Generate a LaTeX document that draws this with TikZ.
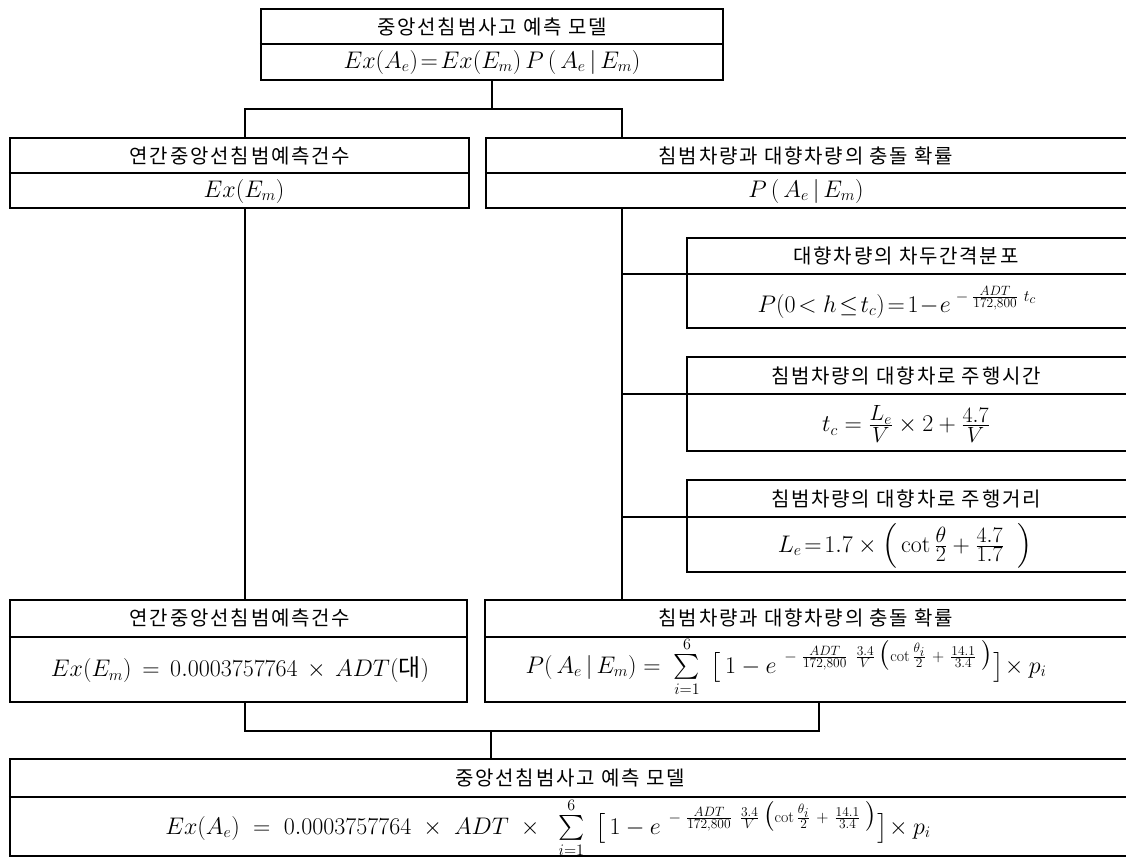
\RequirePackage{fix-cm}
\documentclass[tikz,border=0pt]{standalone}
\usepackage{amsmath}
\usepackage{fontspec}
\newfontfamily\kr[LetterSpace=9]{Noto Sans CJK KR}
\newfontfamily\krplain{Noto Sans CJK KR}
\DeclareMathSizes{24}{24}{16}{13.5}
\tikzset{
  box/.style={draw, line width=2.4pt, inner sep=0pt},
  conn/.style={line width=1.1pt},
  sep/.style={line width=1.2pt},
  ttl/.style={font={\fontsize{20}{22}\selectfont\kr}, inner sep=0pt},
  fml/.style={font={\fontsize{24}{28}\selectfont}, inner sep=0pt},
}
\newcommand\mf[2]{\frac{\mbox{\fontsize{22}{24}\selectfont$#1$}}{\mbox{\fontsize{22}{24}\selectfont$#2$}}}
\newcommand\expo[1]{e^{\hspace{8pt}-\hspace{5pt}\frac{ADT}{172,800}\hspace{8pt}\frac{3.4}{V}\hspace{4pt}\bigl(\cot\frac{#1}{2}\hspace{6pt}+\hspace{6pt}\frac{14.1}{3.4}\hspace{5pt}\bigr)}}
\begin{document}
\begin{tikzpicture}[x=1pt,y=-1pt]
\useasboundingbox (0,0) rectangle (1126,859);
\fill[white] (0,0) rectangle (1126,859);
\clip (0,0) rectangle (1126,859);

% boxes
\node[box, minimum width=462pt, minimum height=71pt] (top) at (492,44.5) {};
\node[box, minimum width=459pt, minimum height=70pt] (L1) at (239.5,173) {};
\node[box, minimum width=644pt, minimum height=70pt] (R1) at (808,173) {};
\node[box, minimum width=443pt, minimum height=90pt] (S1) at (908.5,283) {};
\node[box, minimum width=443pt, minimum height=94pt] (S2) at (908.5,404) {};
\node[box, minimum width=443pt, minimum height=92pt] (S3) at (908.5,526) {};
\node[box, minimum width=457pt, minimum height=102pt] (L2) at (238.5,651) {};
\node[box, minimum width=645pt, minimum height=102pt] (R2) at (807.5,651) {};
\node[box, minimum width=1120pt, minimum height=97pt] (B) at (570,807.5) {};

% dividers
\draw[sep] (top.west |- 0,44) -- (top.east |- 0,44);
\draw[sep] (L1.west |- 0,173) -- (L1.east |- 0,173);
\draw[sep] (R1.west |- 0,173) -- (R1.east |- 0,173);
\draw[sep] (S1.west |- 0,274) -- (S1.east |- 0,274);
\draw[sep] (S2.west |- 0,394) -- (S2.east |- 0,394);
\draw[sep] (S3.west |- 0,517) -- (S3.east |- 0,517);
\draw[sep] (L2.west |- 0,637) -- (L2.east |- 0,637);
\draw[sep] (R2.west |- 0,637) -- (R2.east |- 0,637);
\draw[sep] (B.west |- 0,797) -- (B.east |- 0,797);

% texts
\node[ttl] (topT) at (492,27) {중앙선침범사고 예측 모델};
\node[fml] (topF) at (492,62) {$Ex(A_e)\!=\!Ex(E_m)\,P\,(\,A_e\,|\,E_m)$};
\node[ttl] (L1T) at (240,156) {연간중앙선침범예측건수};
\node[fml] (L1F) at (244,191) {$Ex(E_m)$};
\node[ttl] (R1T) at (806,156) {침범차량과 대향차량의 충돌 확률};
\node[fml] (R1F) at (806,191) {$P\,(\,A_e\,|\,E_m)$};
\node[ttl] (S1T) at (906,256) {대향차량의 차두간격분포};
\node[fml] (S1F) at (897,302) {$P(0\!<\!\,h\!\le\! t_c)\!=\!1\!-\!e^{\hspace{5pt}-\hspace{4pt}\frac{ADT}{172,800}\hspace{6pt}t_c}$};
\node[ttl] (S2T) at (906,376) {침범차량의 대향차로 주행시간};
\node[fml] (S2F) at (906,424) {$t_c=\mf{L_e}{V}\times 2+\mf{4.7}{V}$};
\node[ttl] (S3T) at (906,499) {침범차량의 대향차로 주행거리};
\node[fml] (S3F) at (905,546) {$L_e\!=\!1.7\times\left(\,\cot\mf{\theta}{2}+\mf{4.7}{1.7}\;\;\right)$};
\node[ttl] (L2T) at (240,618) {연간중앙선침범예측건수};
\node[fml] (L2F) at (240,670) {$Ex(E_m)\,=\,0.0003757764\,\times\,ADT(\text{\krplain 대})$};
\node[ttl] (R2T) at (806,618) {침범차량과 대향차량의 충돌 확률};
\node[fml, anchor=base] (R2F) at (786,673) {$P(\,A_e\,|\,E_m)=\;\sum\limits_{i=1}^{6}\;\big[\,1-\expo{\theta_i}\big]\!\times p_i$};
\node[ttl] (BT) at (570,778) {중앙선침범사고 예측 모델};
\node[fml, anchor=base] (BF) at (548,834) {$Ex(A_e)\;=\;0.0003757764\;\times\;ADT\;\times\;\;\sum\limits_{i=1}^{6}\;\big[\,1-\expo{\theta_i}\big]\!\times p_i$};

% connectors
\coordinate (jT) at (492,109);
\coordinate (aL) at (245,109);
\coordinate (aR) at (622,109);
\draw[conn] (top.south) -- (jT);
\draw[conn] (aL |- L1.north) -- (aL) -- (aR) -- (aR |- R1.north);
\draw[conn] (aL |- L1.south) -- (aL |- L2.north);
\draw[conn] (aR |- R1.south) -- (aR |- R2.north);
\coordinate (d1) at (687,274);
\coordinate (d2) at (687,394);
\coordinate (d3) at (687,517);
\draw[conn] (aR |- d1) -- (d1);
\draw[conn] (aR |- d2) -- (d2);
\draw[conn] (aR |- d3) -- (d3);
\coordinate (bL) at (245,731);
\coordinate (bR) at (819,731);
\coordinate (bC) at (491,731);
\draw[conn] (bL |- L2.south) -- (bL) -- (bR) -- (bR |- R2.south);
\draw[conn] (bC) -- (bC |- B.north);
\end{tikzpicture}
\end{document}
